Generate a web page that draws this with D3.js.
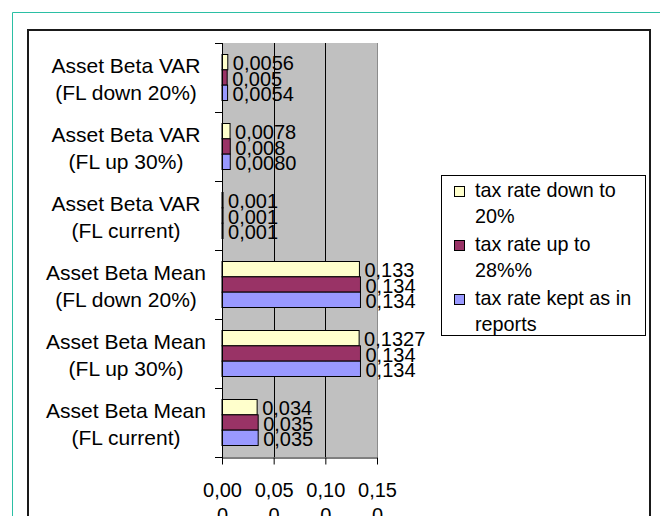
<!DOCTYPE html>
<meta charset="utf-8">
<style>
    body { margin: 0; background: #fff; }
    text { font-family: "Liberation Sans", Arial, sans-serif; fill: #000; }
    .axis path, .axis line { stroke: #000; }
</style>
<body>
<script src="https://d3js.org/d3.v7.min.js"></script>
<script>

    // categories, top to bottom (each split in two lines as in the picture)
    var categories = [
        ["Asset Beta VAR", "(FL down 20%)"],
        ["Asset Beta VAR", "(FL up 30%)"],
        ["Asset Beta VAR", "(FL current)"],
        ["Asset Beta Mean", "(FL down 20%)"],
        ["Asset Beta Mean", "(FL up 30%)"],
        ["Asset Beta Mean", "(FL current)"]
    ];

    var seriesNames = [
        ["tax rate down to", "20%"],
        ["tax rate up to", "28%%"],
        ["tax rate kept as in", "reports"]
    ];
    var seriesColors = ["#FFFFCC", "#993366", "#9999FF"];

    var taxDown = [0.0056, 0.0078, 0.001, 0.133, 0.1327, 0.034];
    var taxUp = [0.005, 0.008, 0.001, 0.134, 0.134, 0.035];
    var taxKept = [0.0054, 0.0080, 0.001, 0.134, 0.134, 0.035];

    var taxDownLabels = ["0,0056", "0,0078", "0,001", "0,133", "0,1327", "0,034"];
    var taxUpLabels = ["0,005", "0,008", "0,001", "0,134", "0,134", "0,035"];
    var taxKeptLabels = ["0,0054", "0,0080", "0,001", "0,134", "0,134", "0,035"];

    var tickValues = [0, 0.05, 0.10, 0.15];
    var tickLabels = [["0,00", "0"], ["0,05", "0"], ["0,10", "0"], ["0,15", "0"]];

    var values = [taxDown, taxUp, taxKept];
    var labels = [taxDownLabels, taxUpLabels, taxKeptLabels];

    var width = 660, height = 516;
    var plot = {left: 222, right: 377, top: 43, bottom: 457};

    var svg = d3.select("body").append("svg")
            .attr("width", width)
            .attr("height", height);

    // outer teal frame and black chart border
    svg.append("path")
            .attr("d", "M12.5,516V12.5H660")
            .attr("fill", "none")
            .attr("stroke", "#2bbfa4")
            .attr("stroke-width", 1);

    svg.append("path")
            .attr("d", "M28,520V30H650V520")
            .attr("fill", "none")
            .attr("stroke", "#1a1a1a")
            .attr("stroke-width", 2);

    var x = d3.scaleLinear()
            .domain([0, 0.15])
            .range([plot.left, plot.right]);

    var y = d3.scaleBand()
            .domain(d3.range(categories.length))
            .range([plot.top, plot.bottom]);

    var ySeries = d3.scaleBand()
            .domain(d3.range(seriesNames.length))
            .range([0, y.bandwidth()])
            .paddingOuter(0.75);

    // plot area
    svg.append("rect")
            .attr("x", plot.left)
            .attr("y", plot.top)
            .attr("width", plot.right - plot.left)
            .attr("height", plot.bottom - plot.top)
            .attr("fill", "#C0C0C0");

    svg.append("line")
            .attr("x1", plot.right + 0.5).attr("x2", plot.right + 0.5)
            .attr("y1", plot.top).attr("y2", plot.bottom)
            .attr("stroke", "#8c8c8c");

    // gridlines
    svg.append("g")
        .selectAll("line")
        .data([0.05, 0.10])
        .enter().append("line")
            .attr("x1", function(d) { return Math.round(x(d)) + 0.5; })
            .attr("x2", function(d) { return Math.round(x(d)) + 0.5; })
            .attr("y1", plot.top)
            .attr("y2", plot.bottom)
            .attr("stroke", "#000");

    // bars
    var groups = svg.append("g")
        .selectAll("g")
        .data(categories)
        .enter().append("g")
            .attr("transform", function(d, i) { return "translate(0," + y(i) + ")"; });

    groups.selectAll("rect")
        .data(function(d, i) { return values.map(function(s) { return s[i]; }); })
        .enter().append("rect")
            .attr("x", x(0))
            .attr("y", function(d, j) { return ySeries(j); })
            .attr("width", function(d) { return x(d) - x(0); })
            .attr("height", ySeries.bandwidth())
            .attr("fill", function(d, j) { return seriesColors[j]; })
            .attr("stroke", "#000")
            .attr("stroke-width", 1);

    groups.selectAll("text")
        .data(function(d, i) { return values.map(function(s, j) { return {v: s[i], t: labels[j][i]}; }); })
        .enter().append("text")
            .attr("x", function(d) { return x(d.v) + 5; })
            .attr("y", function(d, j) { return ySeries(j) + ySeries.bandwidth() / 2 + 8; })
            .style("font-size", "20px")
            .text(function(d) { return d.t; });

    // x axis
    var xAxis = d3.axisBottom(x)
            .tickValues(tickValues)
            .tickSize(7)
            .tickSizeOuter(0)
            .tickFormat("");

    var gx = svg.append("g")
            .attr("class", "x axis")
            .attr("transform", "translate(0," + (plot.bottom + 0.5) + ")")
            .call(xAxis);

    gx.selectAll(".tick").append("text")
            .attr("text-anchor", "middle")
            .style("font-size", "20px")
        .selectAll("tspan")
        .data(function(d, i) { return tickLabels[i]; })
        .enter().append("tspan")
            .attr("x", 0)
            .attr("y", function(d, k) { return 39 + k * 25; })
            .text(function(d) { return d; });

    // y axis: line plus ticks on category boundaries
    var gy = svg.append("g").attr("class", "y axis");
    gy.append("line")
            .attr("x1", plot.left + 0.5).attr("x2", plot.left + 0.5)
            .attr("y1", plot.top).attr("y2", plot.bottom + 1)
            .attr("stroke", "#000");
    gy.selectAll("line.tk")
        .data(d3.range(categories.length + 1))
        .enter().append("line")
            .attr("class", "tk")
            .attr("x1", plot.left - 7).attr("x2", plot.left)
            .attr("y1", function(i) { return Math.round(plot.top + i * y.step()) + 0.5; })
            .attr("y2", function(i) { return Math.round(plot.top + i * y.step()) + 0.5; })
            .attr("stroke", "#000");

    gy.selectAll("text")
        .data(categories)
        .enter().append("text")
            .attr("text-anchor", "middle")
            .style("font-size", "21px")
            .attr("transform", function(d, i) { return "translate(126," + (y(i) + y.bandwidth() / 2) + ")"; })
        .selectAll("tspan")
        .data(function(d) { return d; })
        .enter().append("tspan")
            .attr("x", 0)
            .attr("y", function(d, k) { return -5 + k * 27; })
            .text(function(d) { return d; });

    // legend
    var legend = svg.append("g");
    legend.append("rect")
            .attr("x", 441.5)
            .attr("y", 175.5)
            .attr("width", 204)
            .attr("height", 160)
            .attr("fill", "#fff")
            .attr("stroke", "#000");

    var item = legend.selectAll("g")
        .data(seriesNames)
        .enter().append("g")
            .attr("transform", function(d, i) { return "translate(454," + (197 + i * 54) + ")"; });

    item.append("rect")
            .attr("x", 0.5)
            .attr("y", -10.5)
            .attr("width", 10)
            .attr("height", 10)
            .attr("fill", function(d, i) { return seriesColors[i]; })
            .attr("stroke", "#000");

    item.append("text")
            .style("font-size", "19.8px")
        .selectAll("tspan")
        .data(function(d) { return d; })
        .enter().append("tspan")
            .attr("x", 21)
            .attr("y", function(d, k) { return k * 26; })
            .text(function(d) { return d; });

</script>
</body>
